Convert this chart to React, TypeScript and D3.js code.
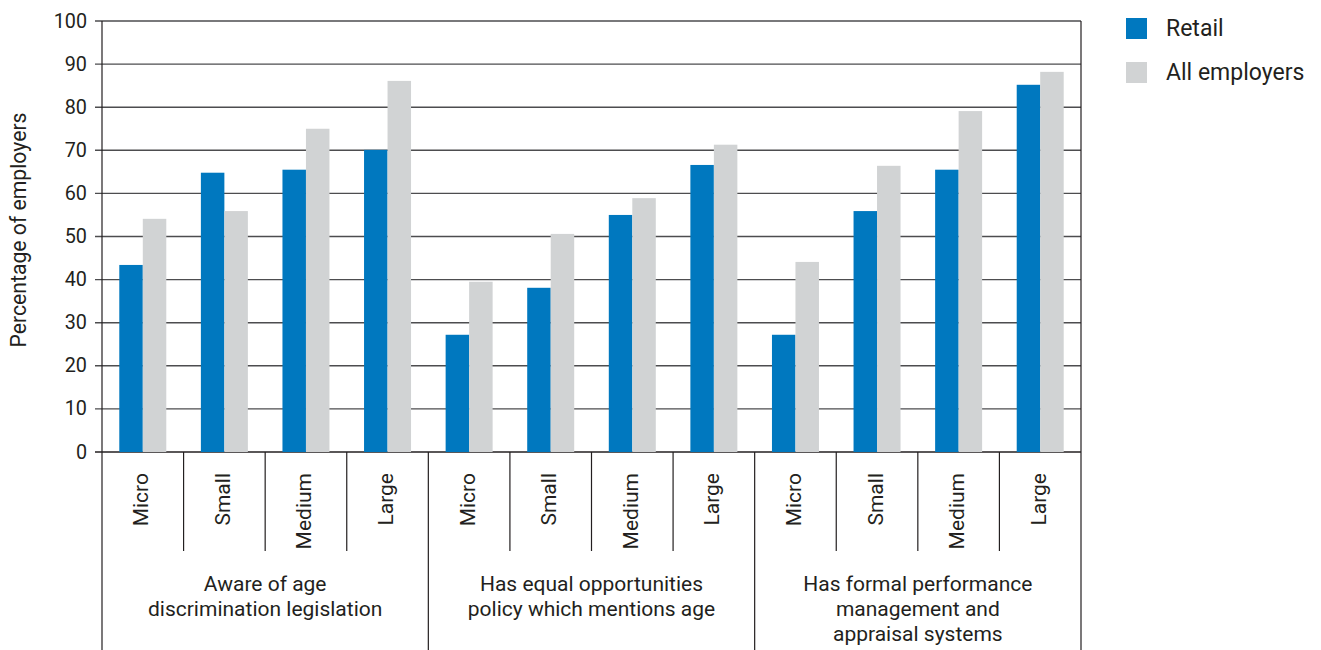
import React from "react";
import * as d3 from "d3";

const groupLabels: string[][] = [
  ["Aware of age", "discrimination legislation"],
  ["Has equal opportunities", "policy which mentions age"],
  ["Has formal performance", "management and", "appraisal systems"],
];
const sizes = ["Micro", "Small", "Medium", "Large"];
const seriesNames = ["Retail", "All employers"];
const retail = [43.4, 64.8, 65.5, 70.1, 27.2, 38.1, 55.0, 66.6, 27.2, 55.9, 65.5, 85.2];
const allEmployers = [54.1, 55.9, 75.0, 86.1, 39.5, 50.6, 58.9, 71.3, 44.1, 66.4, 79.1, 88.2];
const yTicks = [0, 10, 20, 30, 40, 50, 60, 70, 80, 90, 100];

const W = 1321;
const H = 650;
const FONT = "Roboto, 'Open Sans', 'DejaVu Sans', sans-serif";
const BLUE = "#0078BF";
const GRAY = "#D1D3D4";
const GRID = "#4d4d4f";
const TEXT = "#231f20";

export default function App() {
  const left = 102;
  const right = 1081;
  const top = 21;
  const bottom = 452;

  const y = d3.scaleLinear().domain([0, 100]).range([bottom, top]);
  const gx = d3.scaleBand<number>().domain(d3.range(groupLabels.length)).range([left, right]).padding(0);
  const cx = d3.scaleBand<string>().domain(sizes).range([0, gx.bandwidth()]).padding(0);
  const sx = d3
    .scaleBand<string>()
    .domain(seriesNames)
    .range([0, cx.bandwidth()])
    .paddingInner(0)
    .paddingOuter(0.736);

  const values = [retail, allEmployers];
  const colors = [BLUE, GRAY];

  const bars: React.ReactNode[] = [];
  groupLabels.forEach((_, gi) => {
    sizes.forEach((s, ci) => {
      const idx = gi * sizes.length + ci;
      seriesNames.forEach((name, si) => {
        const v = values[si][idx];
        const x0 = (gx(gi) as number) + (cx(s) as number) + (sx(name) as number);
        bars.push(
          <rect
            key={`b-${idx}-${si}`}
            x={x0}
            y={y(v)}
            width={sx.bandwidth()}
            height={y(0) - y(v)}
            fill={colors[si]}
          />
        );
      });
    });
  });

  return (
    <svg
      width={W}
      height={H}
      style={{ position: "absolute", left: 0, top: 0, background: "#fff" }}
      fontFamily={FONT}
    >
      {/* gridlines */}
      {yTicks.map((t) => (
        <g key={`g-${t}`}>
          <line x1={left - 7} x2={right} y1={y(t)} y2={y(t)} stroke={t === 0 ? TEXT : GRID} strokeWidth={1.4} />
          <text x={left - 15} y={y(t)} textAnchor="end" dominantBaseline="central" fontSize={19.8} fill={TEXT}>
            {t}
          </text>
        </g>
      ))}
      {bars}
      {/* axis left and right border */}
      <line x1={left} x2={left} y1={top} y2={H} stroke={TEXT} strokeWidth={1.2} />
      <line x1={right} x2={right} y1={top} y2={H} stroke={TEXT} strokeWidth={1.2} />
      {/* group separators */}
      {groupLabels.map((_, gi) =>
        gi > 0 ? (
          <line
            key={`gs-${gi}`}
            x1={gx(gi) as number}
            x2={gx(gi) as number}
            y1={bottom}
            y2={H}
            stroke={TEXT}
            strokeWidth={1.2}
          />
        ) : null
      )}
      {/* category separators and labels */}
      {groupLabels.map((_, gi) =>
        sizes.map((s, ci) => {
          const x0 = (gx(gi) as number) + (cx(s) as number);
          const c = x0 + cx.bandwidth() / 2 - 1.5;
          return (
            <g key={`c-${gi}-${ci}`}>
              {ci > 0 && (
                <line x1={x0} x2={x0} y1={bottom} y2={551} stroke={TEXT} strokeWidth={1.2} />
              )}
              <text
                transform={`translate(${c},473) rotate(-90)`}
                textAnchor="end"
                dominantBaseline="central"
                fontSize={21}
                fill={TEXT}
              >
                {s}
              </text>
            </g>
          );
        })
      )}
      {/* group labels */}
      {groupLabels.map((lines, gi) => {
        const c = (gx(gi) as number) + gx.bandwidth() / 2;
        return (
          <text key={`gl-${gi}`} textAnchor="middle" fontSize={21} fill={TEXT}>
            {lines.map((ln, li) => (
              <tspan key={li} x={c} y={591 + li * 25}>
                {ln}
              </tspan>
            ))}
          </text>
        );
      })}
      {/* y axis title */}
      <text
        transform={`translate(18,230) rotate(-90)`}
        textAnchor="middle"
        dominantBaseline="central"
        fontSize={21.2}
        fill={TEXT}
      >
        Percentage of employers
      </text>
      {/* legend */}
      {seriesNames.map((name, i) => (
        <g key={`l-${i}`} transform={`translate(1126,${18 + i * 44})`}>
          <rect width={21} height={21} fill={colors[i]} />
          <text x={40} y={10.5} dominantBaseline="central" fontSize={23} fill={TEXT}>
            {name}
          </text>
        </g>
      ))}
    </svg>
  );
}
